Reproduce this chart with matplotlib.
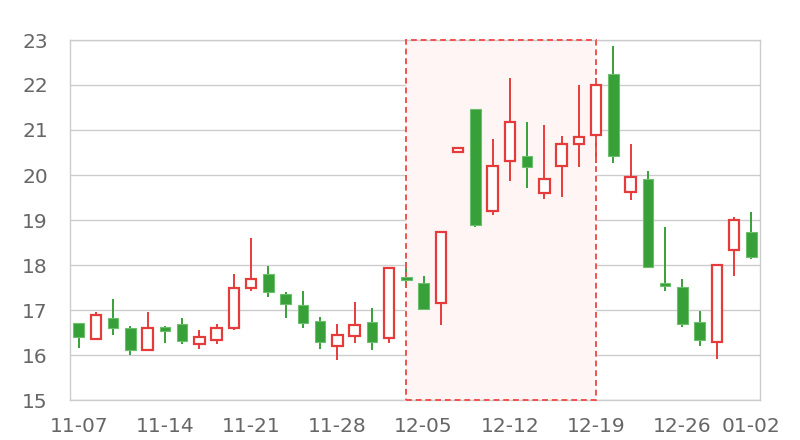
"""
bougies journalieres avec une zone surlignee
"""
import matplotlib.pyplot as plt
from matplotlib.patches import Rectangle

dates = ['11-07', '11-08', '11-09', '11-10', '11-11',
         '11-14', '11-15', '11-16', '11-17', '11-18',
         '11-21', '11-22', '11-23', '11-24', '11-25',
         '11-28', '11-29', '11-30', '12-01', '12-02',
         '12-05', '12-06', '12-07', '12-08', '12-09',
         '12-12', '12-13', '12-14', '12-15', '12-16',
         '12-19', '12-20', '12-21', '12-22', '12-23',
         '12-26', '12-27', '12-28', '12-29', '01-02']
ouverture = [16.72, 16.36, 16.82, 16.59, 16.10, 16.62, 16.69, 16.24, 16.33, 16.60,
             17.49, 17.80, 17.36, 17.10, 16.75, 16.20, 16.42, 16.73, 16.37, 17.73,
             17.59, 17.15, 20.51, 21.47, 19.20, 20.30, 20.43, 19.60, 20.19, 20.70,
             20.89, 22.24, 19.62, 19.92, 17.60, 17.52, 16.73, 16.29, 18.33, 18.73]
fermeture = [16.41, 16.90, 16.60, 16.10, 16.59, 16.54, 16.31, 16.39, 16.61, 17.49,
             17.69, 17.39, 17.14, 16.72, 16.29, 16.45, 16.67, 16.28, 17.93, 17.66,
             17.02, 18.74, 20.61, 18.90, 20.21, 21.18, 20.17, 19.91, 20.69, 20.84,
             22.00, 20.42, 19.96, 17.96, 17.53, 16.69, 16.34, 18.00, 19.01, 18.18]
plus_bas = [16.16, 16.33, 16.45, 16.01, 16.10, 16.27, 16.25, 16.14, 16.24, 16.55,
            17.42, 17.30, 16.83, 16.60, 16.14, 15.88, 16.27, 16.10, 16.27, 17.50,
            17.02, 16.67, 20.51, 18.84, 19.10, 19.87, 19.72, 19.47, 19.52, 20.18,
            20.26, 20.26, 19.44, 17.96, 17.42, 16.63, 16.21, 15.91, 17.76, 18.14]
plus_haut = [16.72, 16.96, 17.25, 16.64, 16.96, 16.65, 16.83, 16.56, 16.69, 17.80,
             18.61, 17.98, 17.39, 17.42, 16.84, 16.70, 17.17, 17.05, 17.93, 18.07,
             17.76, 18.74, 20.61, 21.47, 20.80, 22.15, 21.17, 21.10, 20.87, 21.99,
             22.15, 22.87, 20.70, 20.08, 18.85, 17.70, 16.98, 18.00, 19.07, 19.17]
debut_zone, fin_zone = 19, 30
ticks_x = [0, 5, 10, 15, 20, 25, 30, 35, 39]

rouge = '#e63b3b'
vert = '#38a038'
gris = '#666666'

fig = plt.figure(figsize=(8, 4.4), dpi=100)
ax = fig.add_axes([70/800, 40/440, 690/800, 360/440])

# zone surlignee : le fond sous les bougies, le bord pointille au dessus des axes
ax.add_patch(Rectangle((debut_zone, 15), fin_zone - debut_zone, 8,
                       facecolor='#fff5f5', edgecolor='none', zorder=1))
ax.add_patch(Rectangle((debut_zone, 15), fin_zone - debut_zone, 8,
                       facecolor='none', edgecolor='#ef5350', linestyle=(0, (3, 2)),
                       linewidth=1.4, zorder=2.6, clip_on=False))

largeur = 0.62
for i in range(len(dates)):
    o, c, b, h = ouverture[i], fermeture[i], plus_bas[i], plus_haut[i]
    hausse = c >= o
    couleur = rouge if hausse else vert
    ax.vlines(i, b, h, color=couleur, linewidth=1.4, zorder=2)
    bas = min(o, c)
    haut = max(o, c)
    if hausse:
        ax.add_patch(Rectangle((i - largeur/2, bas), largeur, max(haut - bas, 0.02),
                               facecolor='white', edgecolor=couleur, linewidth=1.6, zorder=3))
    else:
        ax.add_patch(Rectangle((i - largeur/2, bas), largeur, max(haut - bas, 0.02),
                               facecolor=couleur, edgecolor='#6cbf6c', linewidth=0.8, zorder=3))

ax.set_xlim(-0.5, len(dates) - 0.5)
ax.set_ylim(15, 23)
ax.set_yticks(range(15, 24))
ax.set_xticks(ticks_x)
ax.set_xticklabels([dates[i] for i in ticks_x])
ax.grid(axis='y', color='#cccccc', linewidth=1, zorder=0)
ax.set_axisbelow(True)
for s in ax.spines.values():
    s.set_color('#cccccc')
    s.set_linewidth(1)
ax.tick_params(axis='both', length=0, labelsize=14.5, colors=gris)
ax.tick_params(axis='y', pad=16)
ax.tick_params(axis='x', pad=12)

fig.savefig('out.png', dpi=100)
